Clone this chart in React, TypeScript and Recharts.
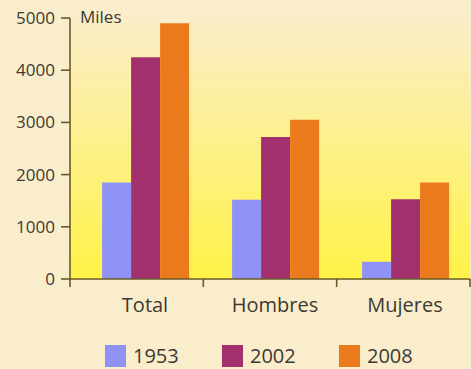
import React from "react";
import {
  Bar,
  BarChart,
  CartesianGrid,
  Label,
  Legend,
  XAxis,
  YAxis,
} from "recharts";

const categories = ["Total", "Hombres", "Mujeres"];
const years = ["1953", "2002", "2008"];
const values1953 = [1850, 1520, 330];
const values2002 = [4250, 2720, 1530];
const values2008 = [4900, 3050, 1850];
const yTicks = [0, 1000, 2000, 3000, 4000, 5000];

const colors = ["#8f93f6", "#a3306e", "#ea7a1c"];

const data = categories.map((name, i) => ({
  name,
  y1953: values1953[i],
  y2002: values2002[i],
  y2008: values2008[i],
}));

const W = 471;
const H = 369;
const AXIS_W = 70;
const MARGIN = { top: 18, right: 1, left: 0, bottom: 0 };
const PLOT_LEFT = MARGIN.left + AXIS_W;
// boundary marks split the full axis length evenly
const SECTION = (W - PLOT_LEFT - MARGIN.right) / categories.length;

const AXIS_COLOR = "#6a5a28";
const TEXT_COLOR = "#3c3a33";
const FONT = "'Open Sans', sans-serif";

function CategoryTick(props: any) {
  const { x, y, payload, index } = props;
  const left = PLOT_LEFT + index * SECTION;
  return (
    <g>
      <line x1={left} y1={y - 8} x2={left} y2={y} stroke={AXIS_COLOR} strokeWidth={1.6} />
      {index === categories.length - 1 && (
        <line x1={left + SECTION} y1={y - 8} x2={left + SECTION} y2={y} stroke={AXIS_COLOR} strokeWidth={1.6} />
      )}
      <text x={x} y={y + 25} textAnchor="middle" fill={TEXT_COLOR} fontSize={20} fontFamily={FONT}>
        {payload.value}
      </text>
    </g>
  );
}

function YearLegend() {
  return (
    <div style={{ height: 40, position: "relative", fontFamily: FONT }}>
      {years.map((yr, i) => (
        <div
          key={yr}
          style={{
            position: "absolute",
            left: 105 + i * 117,
            top: 16,
            display: "flex",
            alignItems: "center",
            height: 22,
          }}
        >
          <span style={{ width: 21, height: 22, background: colors[i], display: "inline-block" }} />
          <span style={{ marginLeft: 7, fontSize: 20, color: TEXT_COLOR, lineHeight: "22px" }}>{yr}</span>
        </div>
      ))}
    </div>
  );
}

export default function App() {
  return (
    <div style={{ position: "absolute", top: 0, left: 0, width: W, height: H, background: "#faedcb" }}>
      <BarChart
        width={W}
        height={H}
        data={data}
        margin={MARGIN}
        barCategoryGap="17%"
        barGap={0}
      >
        <defs>
          <linearGradient id="plotBg" x1="0" y1="0" x2="0" y2="1">
            <stop offset="0%" stopColor="#faedc9" />
            <stop offset="45%" stopColor="#fdf08f" />
            <stop offset="100%" stopColor="#fff347" />
          </linearGradient>
        </defs>
        <CartesianGrid horizontal={false} vertical={false} fill="url(#plotBg)" />
        <XAxis
          dataKey="name"
          height={50}
          padding={{ left: 10, right: 0 }}
          axisLine={{ stroke: AXIS_COLOR, strokeWidth: 1.6 }}
          tickLine={false}
          tickSize={8}
          tickMargin={0}
          tick={<CategoryTick />}
          interval={0}
        />
        <YAxis
          width={AXIS_W}
          domain={[0, 5000]}
          ticks={yTicks}
          interval={0}
          axisLine={{ stroke: AXIS_COLOR, strokeWidth: 1.6 }}
          tickLine={{ stroke: AXIS_COLOR, strokeWidth: 1.6 }}
          tickSize={9}
          tickMargin={6}
          tick={{ fill: TEXT_COLOR, fontSize: 17, fontFamily: FONT }}
        >
          <Label
            content={(p: any) => {
              const vb = p.viewBox;
              return (
                <text
                  x={vb.x + vb.width + 10}
                  y={vb.y + 5}
                  fill={TEXT_COLOR}
                  fontSize={17}
                  fontFamily={FONT}
                >
                  Miles
                </text>
              );
            }}
          />
        </YAxis>
        <Legend verticalAlign="bottom" height={40} content={<YearLegend />} wrapperStyle={{ left: 0, width: W }} />
        {years.map((yr, i) => (
          <Bar
            key={yr}
            dataKey={`y${yr}`}
            name={yr}
            fill={colors[i]}
            isAnimationActive={false}
          />
        ))}
      </BarChart>
    </div>
  );
}
